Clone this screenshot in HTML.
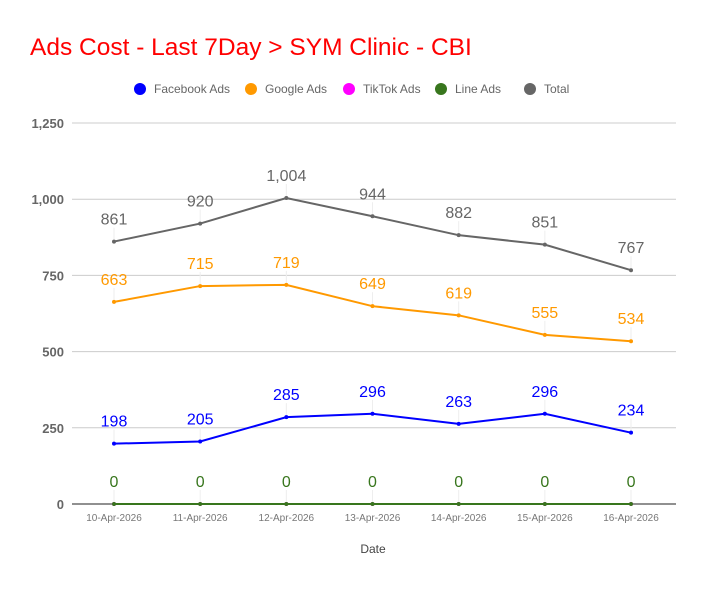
<!DOCTYPE html>
<html><head><meta charset="utf-8"><style>
body{margin:0;background:#fff;}
svg text{font-family:"Liberation Sans",sans-serif;}
</style></head><body>
<svg width="704" height="585" viewBox="0 0 704 585">
<text x="30" y="55" font-size="24.5" fill="#ff0000">Ads Cost - Last 7Day &gt; SYM Clinic - CBI</text>
<g id="legend"></g>
<g id="grid"></g>
<g id="series"></g>
<text x="373" y="553" font-size="12" fill="#444" text-anchor="middle">Date</text>
</svg>
<script>
const categories=["10-Apr-2026","11-Apr-2026","12-Apr-2026","13-Apr-2026","14-Apr-2026","15-Apr-2026","16-Apr-2026"];
const facebook=[198,205,285,296,263,296,234];
const google=[663,715,719,649,619,555,534];
const tiktok=[0,0,0,0,0,0,0];
const line=[0,0,0,0,0,0,0];
const total=[861,920,1004,944,882,851,767];
const yTicks=[0,250,500,750,1000,1250];
const yTickLabels=["0","250","500","750","1,000","1,250"];
const seriesNames=["Facebook Ads","Google Ads","TikTok Ads","Line Ads","Total"];
const NS="http://www.w3.org/2000/svg";
const x=i=>114+i*86.17;
const y=v=>504-v*(381/1250);
function mk(tag,attrs,parent,txt){const e=document.createElementNS(NS,tag);for(const k in attrs)e.setAttribute(k,attrs[k]);if(txt!==undefined)e.textContent=txt;parent.appendChild(e);return e;}
const grid=document.getElementById('grid');
yTicks.forEach((t,i)=>{
 if(t>0){const g=mk('line',{x1:72,x2:676,y1:y(t),y2:y(t),stroke:'#ccc','stroke-width':1},grid);
 
 }
 const l=mk('text',{x:64,y:y(t)+5,'font-size':13,'font-weight':'bold',fill:'#666','text-anchor':'end'},grid,yTickLabels[i]);
 
 
});
categories.forEach((c,i)=>{
 const l=mk('text',{x:x(i),y:521,'font-size':10,fill:'#777','text-anchor':'middle'},grid,c);
 
 
});
const series=document.getElementById('series');
const defs=[[total,'#666666'],[google,'#ff9900'],[facebook,'#0000ff'],[tiktok,'#ff00ff'],[line,'#38761d']];
const labelOff=[[total,'#666666'],[google,'#ff9900'],[facebook,'#0000ff'],[line,'#38761d']];
labelOff.forEach(([d,col])=>{d.forEach((v,i)=>{
 const ll=mk('line',{x1:x(i),x2:x(i),y1:y(v)-14,y2:y(v),stroke:'#eee','stroke-width':1},series);
 
 
});});
const axis=mk('line',{x1:72,x2:676,y1:504,y2:504,stroke:'#222','stroke-width':1},grid);


defs.forEach(([d,col],si)=>{
 const p=mk('polyline',{points:d.map((v,i)=>x(i)+','+y(v)).join(' '),fill:'none',stroke:col,'stroke-width':2},series);
 
 
 d.forEach((v,i)=>{const c=mk('circle',{cx:x(i),cy:y(v),r:2,fill:col},series);
 
 });
});
labelOff.forEach(([d,col])=>{d.forEach((v,i)=>{
 const t=mk('text',{x:x(i),y:y(v)-17,'font-size':16,fill:col,'text-anchor':'middle'},series,v.toLocaleString('en-US'));
 
 
});});
const legend=document.getElementById('legend');
const lcol=['#0000ff','#ff9900','#ff00ff','#38761d','#666666'];
const lx=[140,251,349,441,530];
seriesNames.forEach((n,i)=>{
 const c=mk('circle',{cx:lx[i],cy:89,r:6,fill:lcol[i]},legend);
 
 
 const t=mk('text',{x:lx[i]+14,y:93,'font-size':12,fill:'#666'},legend,n);
 
 
});
</script>
</body></html>
